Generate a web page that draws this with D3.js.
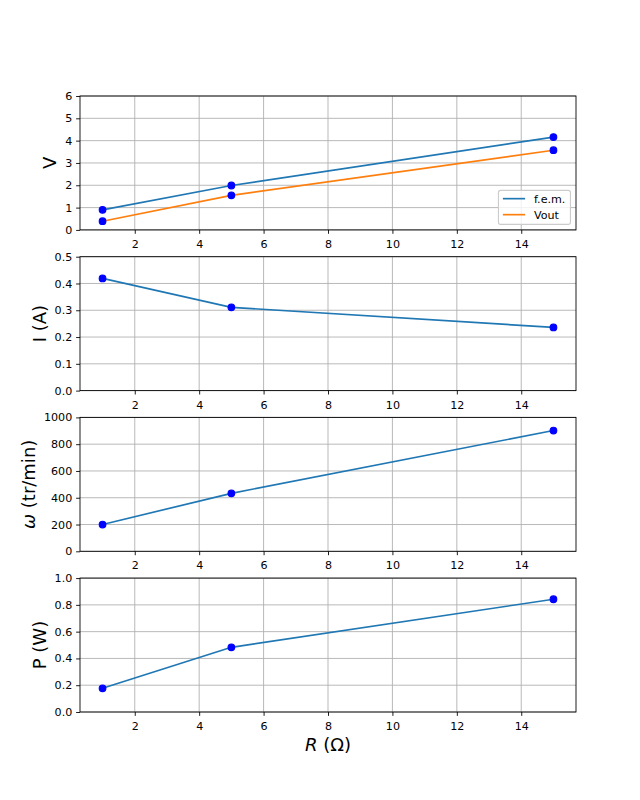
<!DOCTYPE html>
<html>
<head>
<meta charset="utf-8">
<script src="https://cdn.jsdelivr.net/npm/d3@7"></script>
<style>
  body { margin: 0; background: #fff; }
  text { font-family: "DejaVu Sans", sans-serif; }
</style>
</head>
<body>
<script>
// ---- data ----
const resistance = [1, 5, 15];
const fem = [0.9, 1.99, 4.16];
const vout = [0.39, 1.55, 3.57];
const current = [0.419, 0.311, 0.236];
const omega = [200, 433, 902];
const power = [0.177, 0.483, 0.842];

const xTicks = [2, 4, 6, 8, 10, 12, 14];
const yTicksV = [0, 1, 2, 3, 4, 5, 6];
const yTicksI = [0, 0.1, 0.2, 0.3, 0.4, 0.5];
const yTicksW = [0, 200, 400, 600, 800, 1000];
const yTicksP = [0, 0.2, 0.4, 0.6, 0.8, 1.0];

const seriesNames = ["f.e.m.", "Vout"];
const colors = ["#1f77b4", "#ff7f0e"];
const markerColor = "#0000ff";

// ---- layout ----
const W = 640, H = 800;
const axLeft = 80, axRight = 576, axTop = 96, axBottom = 712;
const nPanels = 4;
const ph = (axBottom - axTop) / (nPanels + (nPanels - 1) * 0.2);
const gap = ph * 0.2;
const pt = 80 / 72; // px per point (figure dpi 80)
const tickFs = 10 * pt;
const labelFs = 18;

const svg = d3.select("body").append("svg")
  .attr("width", W).attr("height", H)
  .attr("viewBox", `0 0 ${W} ${H}`);

const x = d3.scaleLinear().domain([0.3, 15.7]).range([axLeft, axRight]);

const panels = [
  { series: [fem, vout], colors: colors, domain: [0, 6], ticks: yTicksV, fmt: d3.format("d"), label: [{t: "V"}], legend: true },
  { series: [current], colors: [colors[0]], domain: [0, 0.5], ticks: yTicksI, fmt: d3.format(".1f"), label: [{t: "I (A)"}] },
  { series: [omega], colors: [colors[0]], domain: [0, 1000], ticks: yTicksW, fmt: d3.format("d"), label: [{t: "ω", it: true}, {t: " (tr/min)"}] },
  { series: [power], colors: [colors[0]], domain: [0, 1.0], ticks: yTicksP, fmt: d3.format(".1f"), label: [{t: "P (W)"}] }
];

panels.forEach((p, i) => {
  const y0 = axTop + i * (ph + gap);
  const y1 = y0 + ph;
  const y = d3.scaleLinear().domain(p.domain).range([y1, y0]);
  const g = svg.append("g");

  // grid
  g.append("g").selectAll("line").data(xTicks).join("line")
    .attr("x1", d => x(d)).attr("x2", d => x(d))
    .attr("y1", y0).attr("y2", y1)
    .attr("stroke", "#b0b0b0").attr("stroke-width", 0.8 * pt);
  g.append("g").selectAll("line").data(p.ticks).join("line")
    .attr("x1", axLeft).attr("x2", axRight)
    .attr("y1", d => y(d)).attr("y2", d => y(d))
    .attr("stroke", "#b0b0b0").attr("stroke-width", 0.8 * pt);

  // lines
  p.series.forEach((s, k) => {
    const line = d3.line().x((d, j) => x(resistance[j])).y(d => y(d));
    g.append("path").datum(s)
      .attr("d", line)
      .attr("fill", "none")
      .attr("stroke", p.colors[k])
      .attr("stroke-width", 1.5 * pt);
  });
  // markers
  p.series.forEach((s) => {
    g.append("g").selectAll("circle").data(s).join("circle")
      .attr("cx", (d, j) => x(resistance[j]))
      .attr("cy", d => y(d))
      .attr("r", 3 * pt)
      .attr("fill", markerColor)
      .attr("stroke", markerColor)
      .attr("stroke-width", 1 * pt);
  });

  // frame
  g.append("rect")
    .attr("x", axLeft).attr("y", y0)
    .attr("width", axRight - axLeft).attr("height", ph)
    .attr("fill", "none").attr("stroke", "#000").attr("stroke-width", 0.8 * pt);

  // axes
  const xAxis = d3.axisBottom(x).tickValues(xTicks).tickFormat(d3.format("d"))
    .tickSize(3.5 * pt).tickPadding(3.5 * pt);
  const gx = g.append("g").attr("transform", `translate(0,${y1})`).call(xAxis);
  const yAxis = d3.axisLeft(y).tickValues(p.ticks).tickFormat(p.fmt)
    .tickSize(3.5 * pt).tickPadding(3.5 * pt);
  const gy = g.append("g").attr("transform", `translate(${axLeft},0)`).call(yAxis);
  [gx, gy].forEach(ax => {
    ax.select(".domain").remove();
    ax.selectAll(".tick line").attr("stroke", "#000").attr("stroke-width", 0.8 * pt);
    ax.selectAll(".tick text").attr("fill", "#000")
      .style("font-family", "DejaVu Sans").style("font-size", tickFs + "px");
  });
  gx.selectAll(".tick text").attr("dy", "0.93em");

  // y label
  let minX = Infinity;
  gy.selectAll(".tick text").each(function () {
    const b = this.getBBox();
    minX = Math.min(minX, axLeft + b.x);
  });
  const lx = minX - 4 * pt - 0.236 * labelFs;
  const ly = (y0 + y1) / 2;
  const lab = g.append("text")
    .attr("transform", `translate(${lx},${ly}) rotate(-90)`)
    .attr("text-anchor", "middle")
    .style("font-size", labelFs + "px")
    .attr("fill", "#000");
  p.label.forEach(part => {
    lab.append("tspan").text(part.t).style("font-style", part.it ? "italic" : "normal");
  });

  // legend
  if (p.legend) {
    const lfs = 10 * pt;
    const bx1 = axRight - 0.5 * lfs;
    const by1 = y1 - 0.5 * lfs;
    const bw = 72;
    const bh = 34;
    const lg = g.append("g");
    lg.append("rect")
      .attr("x", bx1 - bw).attr("y", by1 - bh)
      .attr("width", bw).attr("height", bh)
      .attr("rx", 0.2 * lfs).attr("ry", 0.2 * lfs)
      .attr("fill", "#fff").attr("fill-opacity", 0.8)
      .attr("stroke", "#cccccc").attr("stroke-width", 1 * pt);
    seriesNames.forEach((name, k) => {
      const cy = by1 - bh + 8.3 + k * 16;
      const hx0 = bx1 - bw + 0.4 * lfs;
      lg.append("line")
        .attr("x1", hx0).attr("x2", hx0 + 2 * lfs)
        .attr("y1", cy).attr("y2", cy)
        .attr("stroke", colors[k]).attr("stroke-width", 1.5 * pt);
      lg.append("text")
        .attr("x", hx0 + 2 * lfs + 0.8 * lfs).attr("y", cy)
        .attr("dy", "0.36em")
        .style("font-size", lfs + "px")
        .attr("fill", "#000")
        .text(name);
    });
  }
});

// x label
const xl = svg.append("text")
  .attr("x", (axLeft + axRight) / 2).attr("y", axBottom + 39)
  .attr("text-anchor", "middle")
  .style("font-size", labelFs + "px")
  .attr("fill", "#000");
xl.append("tspan").text("R").style("font-style", "italic");
xl.append("tspan").text(" (Ω)");
</script>
</body>
</html>
